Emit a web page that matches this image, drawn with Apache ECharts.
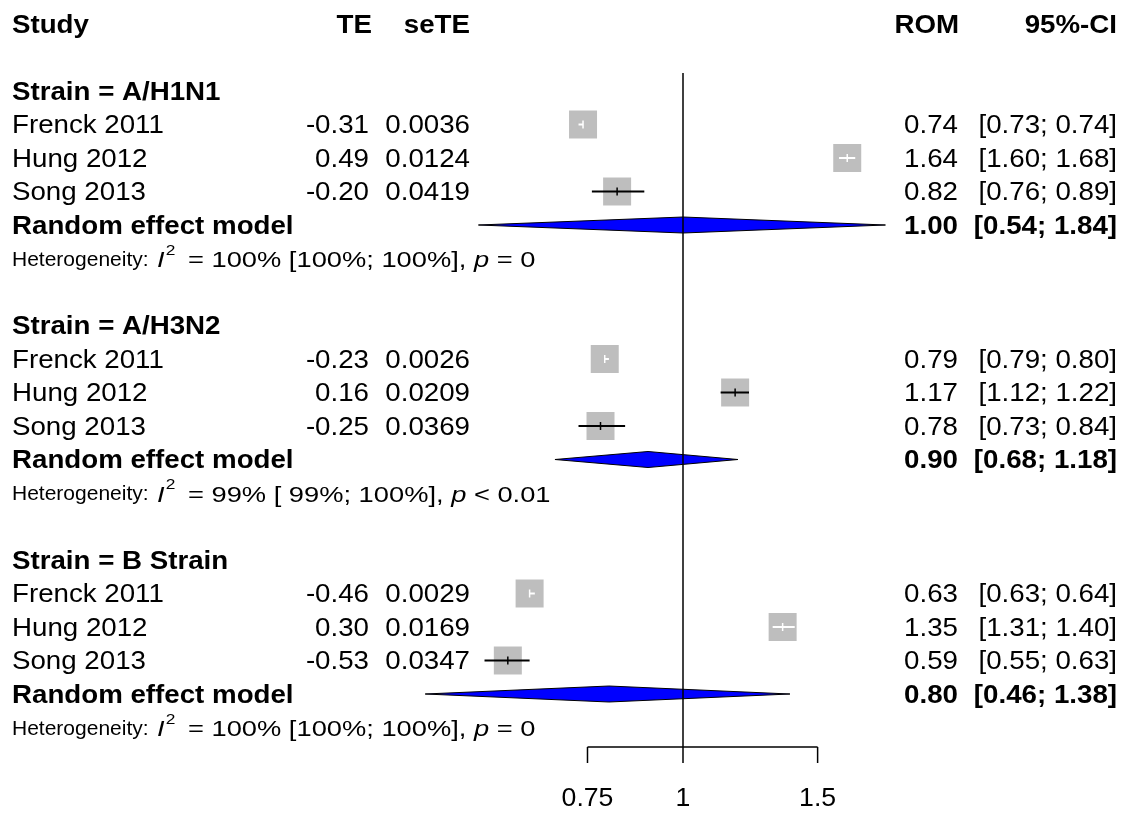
<!DOCTYPE html>
<html><head><meta charset="utf-8">
<script src="https://cdn.jsdelivr.net/npm/echarts@6/dist/echarts.min.js"></script>
<style>html,body{margin:0;padding:0;background:#fff}#main{width:1126px;height:814px}</style>
</head><body><div id="main"></div>
<script>
// ---------------- data ----------------
const strainNames = ['A/H1N1', 'A/H3N2', 'B Strain'];
const studyNames = ['Frenck 2011', 'Hung 2012', 'Song 2013'];
const teValues   = [-0.31, 0.49, -0.20, -0.23, 0.16, -0.25, -0.46, 0.30, -0.53];
const seTEValues = [0.0036, 0.0124, 0.0419, 0.0026, 0.0209, 0.0369, 0.0029, 0.0169, 0.0347];
const romValues  = [0.74, 1.64, 0.82, 0.79, 1.17, 0.78, 0.63, 1.35, 0.59];
const ciLower    = [0.73, 1.60, 0.76, 0.79, 1.12, 0.73, 0.63, 1.31, 0.55];
const ciUpper    = [0.74, 1.68, 0.89, 0.80, 1.22, 0.84, 0.64, 1.40, 0.63];
const reRom      = [1.00, 0.90, 0.80];
const reLower    = [0.54, 0.68, 0.46];
const reUpper    = [1.84, 1.18, 1.38];
const hetI2      = ['100%', '99%', '100%'];
const hetI2CI    = ['[100%; 100%]', '[ 99%; 100%]', '[100%; 100%]'];
const hetP       = ['= 0', '< 0.01', '= 0'];
const xTicks     = [0.75, 1, 1.5];
const xTickLabels = ['0.75', '1', '1.5'];
const refValue   = 1;

// ---------------- layout ----------------
const W = 1126, H = 814;
const ROW_H = 33.5, ROW0 = 24;
const X_PER_LN = 332, X_REF = 683;
const XMIN = Math.exp(-X_REF / X_PER_LN), XMAX = Math.exp((W - X_REF) / X_PER_LN);
const YMIN = -ROW0 / ROW_H, YMAX = (H - ROW0) / ROW_H;
const AXIS_ROW = (747 - ROW0) / ROW_H;
const REF_TOP_ROW = (73 - ROW0) / ROW_H;
const FONT = '"Liberation Sans", Arial, sans-serif';
const FS = 26, FS_HET = 21, FS_HET2 = 22, FS_TICK = 25;
const TEXT_SX = 1.065, HET_SX = 1.24, TEXT_DY = 1.5;
const COL_STUDY = 12, COL_TE_H = 372, COL_TE = 369, COL_SE = 470, COL_ROM_H = 959, COL_ROM = 958, COL_CI = 1117;
const COL_HET2 = 157;
const BOX = 28;

function rowOf(g, k) { return 2 + 7 * g + k; }

const studyData = [];
for (let g = 0; g < strainNames.length; g++) {
  for (let i = 0; i < studyNames.length; i++) {
    const idx = g * studyNames.length + i;
    studyData.push([romValues[idx], rowOf(g, 1 + i), ciLower[idx], ciUpper[idx]]);
  }
}
const diamondData = strainNames.map((s, g) => [reRom[g], rowOf(g, 4), reLower[g], reUpper[g]]);

// text rows
const textRows = [];
textRows.push({ row: 0, cells: [
  { t: 'Study', x: COL_STUDY, a: 'left', b: true },
  { t: 'TE', x: COL_TE_H, a: 'right', b: true },
  { t: 'seTE', x: COL_SE, a: 'right', b: true },
  { t: 'ROM', x: COL_ROM_H, a: 'right', b: true },
  { t: '95%-CI', x: COL_CI, a: 'right', b: true }
]});
strainNames.forEach((s, g) => {
  textRows.push({ row: rowOf(g, 0), cells: [{ t: 'Strain = ' + s, x: COL_STUDY, a: 'left', b: true }] });
  studyNames.forEach((n, i) => {
    const idx = g * studyNames.length + i;
    textRows.push({ row: rowOf(g, 1 + i), cells: [
      { t: n, x: COL_STUDY, a: 'left' },
      { t: teValues[idx].toFixed(2), x: COL_TE, a: 'right' },
      { t: seTEValues[idx].toFixed(4), x: COL_SE, a: 'right' },
      { t: romValues[idx].toFixed(2), x: COL_ROM, a: 'right' },
      { t: '[' + ciLower[idx].toFixed(2) + '; ' + ciUpper[idx].toFixed(2) + ']', x: COL_CI, a: 'right' }
    ]});
  });
  textRows.push({ row: rowOf(g, 4), cells: [
    { t: 'Random effect model', x: COL_STUDY, a: 'left', b: true },
    { t: reRom[g].toFixed(2), x: COL_ROM, a: 'right', b: true },
    { t: '[' + reLower[g].toFixed(2) + '; ' + reUpper[g].toFixed(2) + ']', x: COL_CI, a: 'right', b: true }
  ]});
  textRows.push({ row: rowOf(g, 5), cells: [
    { het: 'Heterogeneity:', x: COL_STUDY, a: 'left' },
    { rich: '{it|I}{sup|2}{a| = ' + hetI2[g] + ' ' + hetI2CI[g] + ', }{it|p}{a| ' + hetP[g] + '}', x: COL_HET2, a: 'left' }
  ]});
});

const chart = echarts.init(document.getElementById('main'), null, { renderer: 'canvas' });

const option = {
  animation: false,
  backgroundColor: '#ffffff',
  grid: { left: 0, right: 0, top: 0, bottom: 0 },
  xAxis: { type: 'log', min: XMIN, max: XMAX, show: false },
  yAxis: { type: 'value', inverse: true, min: YMIN, max: YMAX, show: false },
  series: [
    { // pooled diamonds
      type: 'custom', clip: false, z: 2,
      data: diamondData,
      renderItem: function (params, api) {
        const r = api.value(1);
        const c = api.coord([api.value(0), r]);
        const l = api.coord([api.value(2), r]);
        const u = api.coord([api.value(3), r]);
        return { type: 'polygon', shape: { points: [[l[0], c[1]], [c[0], c[1] - 8], [u[0], c[1]], [c[0], c[1] + 8]] },
          style: { fill: '#0000FF', stroke: '#000000', lineWidth: 1 } };
      }
    },
    { // reference line and x axis
      type: 'custom', clip: false, z: 3,
      data: [[refValue, AXIS_ROW]],
      renderItem: function (params, api) {
        const bottom = api.coord([refValue, AXIS_ROW]);
        const top = api.coord([refValue, REF_TOP_ROW]);
        const children = [
          { type: 'line', shape: { x1: bottom[0], y1: top[1], x2: bottom[0], y2: bottom[1] }, style: { stroke: '#000', lineWidth: 1.5 } }
        ];
        const a0 = api.coord([xTicks[0], AXIS_ROW]);
        const a1 = api.coord([xTicks[xTicks.length - 1], AXIS_ROW]);
        children.push({ type: 'line', shape: { x1: a0[0], y1: a0[1], x2: a1[0], y2: a1[1] }, style: { stroke: '#000', lineWidth: 1.5 } });
        xTicks.forEach((v, i) => {
          const p = api.coord([v, AXIS_ROW]);
          children.push({ type: 'line', shape: { x1: p[0], y1: p[1], x2: p[0], y2: p[1] + 16 }, style: { stroke: '#000', lineWidth: 1.5 } });
          children.push({ type: 'text', x: p[0], y: p[1] + 52, scaleX: TEXT_SX, style: { text: xTickLabels[i], fill: '#000', font: FS_TICK + 'px ' + FONT, align: 'center', verticalAlign: 'middle' } });
        });
        return { type: 'group', children: children };
      }
    },
    { // study boxes and CIs
      type: 'custom', clip: false, z: 4,
      data: studyData,
      renderItem: function (params, api) {
        const r = api.value(1);
        const c = api.coord([api.value(0), r]);
        const lo = api.coord([api.value(2), r])[0];
        const hi = api.coord([api.value(3), r])[0];
        const inside = lo >= c[0] - BOX / 2 && hi <= c[0] + BOX / 2;
        const col = inside ? '#ffffff' : '#000000';
        return { type: 'group', children: [
          { type: 'rect', shape: { x: c[0] - BOX / 2, y: c[1] - BOX / 2, width: BOX, height: BOX }, style: { fill: '#BEBEBE' } },
          { type: 'line', shape: { x1: lo, y1: c[1], x2: hi, y2: c[1] }, style: { stroke: col, lineWidth: 2 } },
          { type: 'line', shape: { x1: c[0], y1: c[1] - 4, x2: c[0], y2: c[1] + 4 }, style: { stroke: col, lineWidth: 1.5 } }
        ]};
      }
    },
    { // table text
      type: 'custom', clip: false, z: 5,
      data: textRows.map(t => [refValue, t.row]),
      renderItem: function (params, api) {
        const tr = textRows[params.dataIndex];
        const y = api.coord([refValue, api.value(1)])[1] + TEXT_DY;
        return { type: 'group', children: tr.cells.map(cell => {
          if (cell.rich) {
            return { type: 'text', x: cell.x, y: y - 1, scaleX: HET_SX, style: {
              text: cell.rich, align: cell.a, verticalAlign: 'middle', fill: '#000',
              rich: {
                a: { fontSize: FS_HET2, fontFamily: FONT, fill: '#000', lineHeight: 26, verticalAlign: 'bottom' },
                it: { fontSize: FS_HET2, fontFamily: FONT, fontStyle: 'italic', fill: '#000', lineHeight: 26, verticalAlign: 'bottom' },
                sup: { fontSize: 14, fontFamily: FONT, fill: '#000', lineHeight: 14, padding: [0, 4, 14, 1], verticalAlign: 'bottom' }
              } } };
          }
          if (cell.het) {
            return { type: 'text', x: cell.x, y: y, style: {
              text: cell.het, fill: '#000', font: FS_HET + 'px ' + FONT, align: cell.a, verticalAlign: 'middle' } };
          }
          return { type: 'text', x: cell.x, y: y, scaleX: TEXT_SX, style: {
            text: cell.t, fill: '#000', font: (cell.b ? 'bold ' : '') + FS + 'px ' + FONT,
            align: cell.a, verticalAlign: 'middle' } };
        }) };
      }
    }
  ]
};
chart.setOption(option);
</script>
</body></html>
